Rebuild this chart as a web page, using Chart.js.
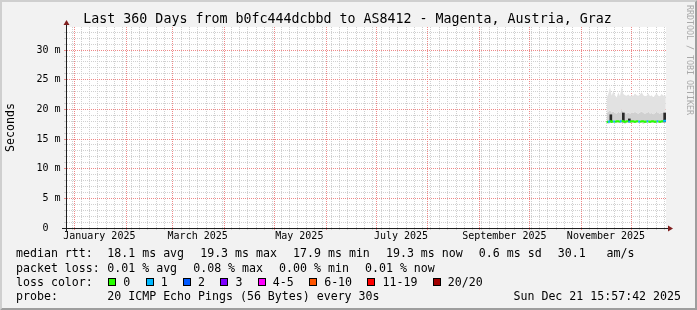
<!DOCTYPE html>
<html><head><meta charset="utf-8">
<script src="https://cdn.jsdelivr.net/npm/chart.js@4/dist/chart.umd.min.js"></script>
<style>html,body{margin:0;padding:0;background:#f2f2f2;}canvas{display:block;}</style>
</head><body>
<canvas id="c" width="697" height="310"></canvas>
<script>
// ---------- texts ----------
const titleText = 'Last 360 Days from b0fc444dcbbd to AS8412 - Magenta, Austria, Graz';
const yAxisTitle = 'Seconds';
const watermarkText = 'RRDTOOL / TOBI OETIKER';
// ---------- x axis (days since 1 Jan 2025) ----------
const xRange = [-5, 355];
const monthStartDays = [0, 31, 59, 90, 120, 151, 181, 212, 243, 273, 304, 334];
const xLabelDays = [15, 74, 135, 196, 258, 319];
const xLabelTexts = ['January 2025', 'March 2025', 'May 2025', 'July 2025', 'September 2025', 'November 2025'];
// ---------- y axis (ms) ----------
const yRange = [0, 33.9];
const yMajorValues = [0, 5, 10, 15, 20, 25, 30];
const yTickLabels = ['0  ', '5 m', '10 m', '15 m', '20 m', '25 m', '30 m'];
// ---------- series ----------
const smokeDays = [319.4, 320.4, 321.4, 322.4, 323.4, 324.4, 325.4, 326.4, 327.4, 328.4, 329.4, 330.4, 331.4, 332.4, 333.4, 334.4, 335.4, 336.4, 337.4, 338.4, 339.4, 340.4, 341.4, 342.4, 343.4, 344.4, 345.4, 346.4, 347.4, 348.4, 349.4, 350.4, 351.4, 352.4, 353.4, 354.4, 354.9];
const smokeMin = [17.7, 17.6, 17.7, 17.7, 17.8, 17.7, 17.7, 17.8, 17.7, 17.7, 17.7, 17.6, 17.7, 17.8, 17.7, 17.7, 17.7, 17.7, 17.8, 17.7, 17.7, 17.7, 17.6, 17.7, 17.7, 17.8, 17.7, 17.7, 17.7, 17.7, 17.7, 17.8, 17.7, 17.7, 17.7, 17.7, 17.8];
const smokeInner = [19.4, 19.6, 19.9, 19.5, 19.7, 19.4, 19.3, 19.6, 19.4, 20.0, 19.5, 19.4, 19.3, 19.5, 19.3, 19.4, 19.4, 19.6, 19.4, 19.3, 19.5, 19.7, 19.4, 19.3, 19.4, 19.6, 19.3, 19.4, 19.2, 19.4, 19.6, 19.4, 19.3, 19.5, 19.4, 19.5, 19.4];
const smokeMax = [22.0, 22.6, 23.8, 22.3, 23.1, 22.4, 22.0, 22.9, 22.2, 23.9, 22.6, 22.4, 22.3, 22.5, 22.2, 22.4, 22.3, 22.7, 22.4, 22.3, 22.5, 22.9, 22.4, 22.2, 22.3, 22.7, 22.2, 22.4, 22.0, 22.4, 22.7, 22.3, 22.2, 22.6, 22.3, 22.4, 22.3];
const medianRtt = [18.0, 17.8, 18.1, 17.9, 18.0, 17.9, 18.0, 18.0, 17.9, 18.1, 18.0, 17.9, 18.0, 18.0, 17.9, 18.0, 18.0, 17.9, 18.0, 18.0, 17.9, 18.0, 18.0, 17.9, 18.0, 18.0, 17.9, 18.0, 18.0, 17.9, 18.0, 18.0, 17.9, 18.0, 18.0, 18.1, 18.2];
const medianLoss = [0, 0, 1, 0, 0, 1, 0, 0, 0, 1, 0, 0, 0, 0, 1, 0, 0, 0, 0, 0, 1, 0, 0, 0, 0, 1, 0, 0, 0, 0, 0, 1, 0, 0, 0, 1, 1];
const spikeDays = [321.9, 329.4, 333.0, 354.2];
const spikeLow = [17.9, 17.9, 17.9, 17.9];
const spikeHigh = [19.1, 19.4, 18.4, 19.4];
// ---------- legend ----------
const lossLabels = ['0', '1', '2', '3', '4-5', '6-10', '11-19', '20/20'];
const lossColors = ['#26ff00', '#00b8ff', '#0059ff', '#7e00ff', '#ff00ff', '#ff5500', '#ff0000', '#a10000'];
const statNames = ['avg', 'max', 'min', 'now'];
const rttStats = [18.1, 19.3, 17.9, 19.3];
const rttSd = 0.6;
const rttAmPerS = 30.1;
const lossStats = [0.01, 0.08, 0.00, 0.01];
const probeText = '20 ICMP Echo Pings (56 Bytes) every 30s';
const dateText = 'Sun Dec 21 15:57:42 2025';

// ---------- style ----------
const MONO = '"DejaVu Sans Mono", "Liberation Mono", monospace';
const GRID = 'rgb(208,208,208)';
const MGRID = 'rgb(238,136,136)';
const NONE = 'rgba(0,0,0,0)';

const minorDays = [];
for (let d = -1; d < xRange[1]; d += 5) if (d > xRange[0] && !monthStartDays.includes(d)) minorDays.push(d);
const xTickVals = Array.from(new Set([...monthStartDays, ...minorDays, ...xLabelDays])).sort((a, b) => a - b);
const yTickVals = [];
for (let v = 0; v < yRange[1]; v += 1) yTickVals.push(v);

function xGridColor(c) {
  const v = c.tick ? c.tick.value : null;
  if (monthStartDays.includes(v)) return MGRID;
  if (minorDays.includes(v)) return GRID;
  return NONE;
}
function yGridColor(c) {
  const v = c.tick ? c.tick.value : null;
  return yMajorValues.includes(v) ? MGRID : GRID;
}

const pts = arr => smokeDays.map((d, i) => ({x: d, y: arr[i]}));

const rrdBackground = {
  id: 'rrdBackground',
  beforeDraw(chart) {
    const {ctx, chartArea: a, width: W, height: H} = chart;
    ctx.save();
    ctx.fillStyle = '#f2f2f2'; ctx.fillRect(0, 0, W, H);
    ctx.fillStyle = '#cfcfcf';
    ctx.beginPath(); ctx.moveTo(0, H); ctx.lineTo(2, H - 2); ctx.lineTo(2, 2); ctx.lineTo(W - 2, 2); ctx.lineTo(W, 0); ctx.lineTo(0, 0); ctx.closePath(); ctx.fill();
    ctx.fillStyle = '#9e9e9e';
    ctx.beginPath(); ctx.moveTo(2, H - 2); ctx.lineTo(W - 2, H - 2); ctx.lineTo(W - 2, 2); ctx.lineTo(W, 0); ctx.lineTo(W, H); ctx.lineTo(0, H); ctx.closePath(); ctx.fill();
    ctx.fillStyle = '#ffffff';
    ctx.fillRect(a.left, a.top, a.right - a.left, a.bottom - a.top);
    ctx.restore();
  }
};

const rrdDecor = {
  id: 'rrdDecor',
  afterDraw(chart) {
    const {ctx, chartArea: a} = chart;
    const X0 = a.left + 0.5, Y0 = a.bottom + 0.5, X1 = a.right, YT = a.top;
    ctx.save();
    ctx.strokeStyle = '#1f1f1f'; ctx.lineWidth = 1;
    ctx.beginPath(); ctx.moveTo(a.left - 4, Y0); ctx.lineTo(X1 + 4, Y0); ctx.stroke();
    ctx.beginPath(); ctx.moveTo(X0, a.bottom + 4); ctx.lineTo(X0, YT - 4); ctx.stroke();
    ctx.fillStyle = '#801f1f';
    ctx.beginPath(); ctx.moveTo(X1 + 2, Y0 - 3); ctx.lineTo(X1 + 2, Y0 + 3); ctx.lineTo(X1 + 7, Y0); ctx.closePath(); ctx.fill();
    ctx.beginPath(); ctx.moveTo(X0 - 3, YT - 2); ctx.lineTo(X0 + 3, YT - 2); ctx.lineTo(X0, YT - 7); ctx.closePath(); ctx.fill();
    ctx.fillStyle = '#000';
    ctx.font = '13.3px ' + MONO;
    ctx.textAlign = 'center'; ctx.textBaseline = 'alphabetic';
    ctx.fillText(titleText, 347.5, 23.3);
    ctx.save();
    ctx.translate(693, 5); ctx.rotate(Math.PI / 2);
    ctx.font = '8.3px ' + MONO; ctx.fillStyle = '#a9a9a9';
    ctx.textAlign = 'left'; ctx.textBaseline = 'top';
    ctx.fillText(watermarkText, 0, 0);
    ctx.restore();
    ctx.font = '11.6px ' + MONO; ctx.fillStyle = '#000';
    ctx.textAlign = 'left'; ctx.textBaseline = 'alphabetic';
    const LX = 16, COL = 107.3, GAP = 16.1;
    const rows = [257.3, 271.5, 285.7, 299.9];
    const drawItems = (items, y) => {
      let x = COL;
      items.forEach(t => { ctx.fillText(t, x, y); x += ctx.measureText(t).width + GAP; });
    };
    ctx.fillText('median rtt:', LX, rows[0]);
    drawItems(rttStats.map((v, i) => v.toFixed(1) + ' ms ' + statNames[i])
      .concat([rttSd.toFixed(1) + ' ms sd', rttAmPerS.toFixed(1) + '   am/s']), rows[0]);
    ctx.fillText('packet loss:', LX, rows[1]);
    drawItems(lossStats.map((v, i) => v.toFixed(2) + ' % ' + statNames[i]), rows[1]);
    ctx.fillText('loss color:', LX, rows[2]);
    let x = COL;
    lossLabels.forEach((lab, i) => {
      const bx = Math.round(x + 1);
      ctx.fillStyle = lossColors[i];
      ctx.fillRect(bx, 278, 8, 8);
      ctx.strokeStyle = '#000'; ctx.lineWidth = 1;
      ctx.strokeRect(bx + 0.5, 278.5, 7, 7);
      ctx.fillStyle = '#000';
      ctx.fillText(lab, x + 16, rows[2]);
      x += 16 + ctx.measureText(lab).width + 14.4;
    });
    ctx.fillText('probe:', LX, rows[3]);
    ctx.fillText(probeText, COL, rows[3]);
    ctx.textAlign = 'right';
    ctx.fillText(dateText, 681, rows[3]);
    ctx.restore();
  }
};

new Chart(document.getElementById('c'), {
  type: 'line',
  data: {
    datasets: [
      {label: 'smoke min', data: pts(smokeMin), borderColor: NONE, borderWidth: 0, pointRadius: 0, fill: false, order: 5},
      {label: 'smoke inner', data: pts(smokeInner), borderColor: NONE, borderWidth: 0, pointRadius: 0, fill: '-1', backgroundColor: '#d0d0d0', order: 4},
      {label: 'smoke outer', data: pts(smokeMax), borderColor: NONE, borderWidth: 0, pointRadius: 0, fill: '-1', backgroundColor: '#e2e2e2', order: 3},
      {type: 'bar', label: 'smoke core', data: spikeDays.map((d, i) => ({x: d, y: [spikeLow[i], spikeHigh[i]]})), backgroundColor: '#2a2a2a', barThickness: 2, order: 2},
      {label: 'median rtt', data: pts(medianRtt), borderWidth: 2, pointRadius: 0, fill: false, order: 1,
        borderColor: lossColors[0],
        segment: {borderColor: c => lossColors[medianLoss[c.p1DataIndex]]}}
    ]
  },
  options: {
    responsive: false, animation: false, devicePixelRatio: 1,
    layout: {padding: {left: 0, top: 27, right: 31, bottom: 0}},
    plugins: {legend: {display: false}, tooltip: {enabled: false}, title: {display: false}},
    elements: {line: {tension: 0}},
    scales: {
      x: {
        type: 'linear', min: xRange[0], max: xRange[1], offset: false, z: 1,
        afterBuildTicks: s => { s.ticks = xTickVals.map(v => ({value: v})); },
        afterFit: s => { s.height = 82; },
        grid: {color: xGridColor, tickColor: xGridColor, lineWidth: 1, drawTicks: true, tickLength: 2, offset: false},
        border: {display: true, color: '#1f1f1f', width: 1, dash: [1, 1]},
        ticks: {autoSkip: false, maxRotation: 0, minRotation: 0, padding: 0.5, color: '#000',
          font: {family: MONO, size: 10},
          callback: v => { const i = xLabelDays.indexOf(v); return i >= 0 ? xLabelTexts[i] : ''; }}
      },
      y: {
        type: 'linear', min: yRange[0], max: yRange[1], z: 1,
        afterBuildTicks: s => { s.ticks = yTickVals.map(v => ({value: v})); },
        afterFit: s => { s.width = 66; },
        grid: {color: yGridColor, tickColor: c => (c.tick && yMajorValues.includes(c.tick.value)) ? MGRID : GRID, lineWidth: 1, drawTicks: true, tickLength: 2},
        border: {display: true, color: '#1f1f1f', width: 1, dash: [1, 1]},
        title: {display: true, text: yAxisTitle, color: '#000', font: {family: MONO, size: 11.6}, padding: {top: 4, bottom: 0}},
        ticks: {autoSkip: false, padding: 3.5, color: '#000', font: {family: MONO, size: 10},
          callback: v => { const i = yMajorValues.indexOf(v); return i >= 0 ? yTickLabels[i] : ''; }}
      }
    }
  },
  plugins: [rrdBackground, rrdDecor]
});
</script>
</body></html>
